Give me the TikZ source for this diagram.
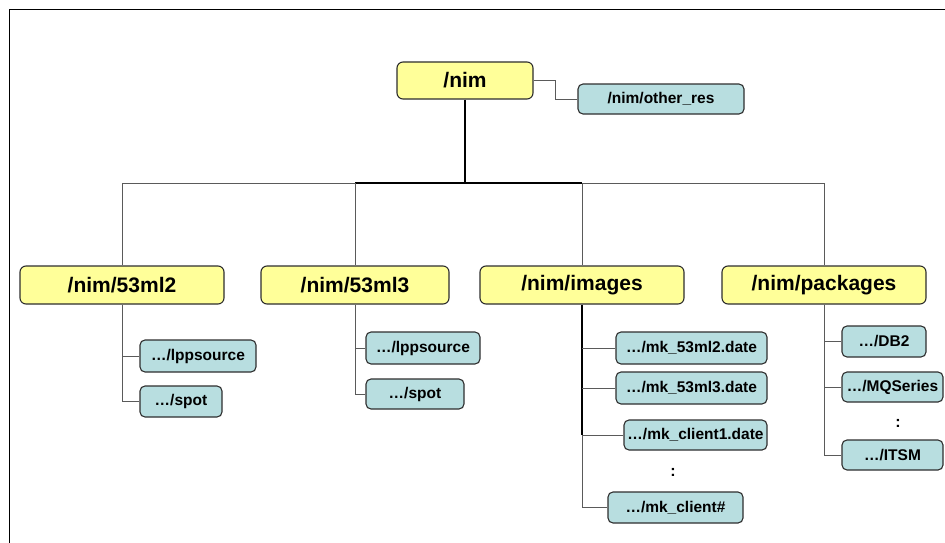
\documentclass[tikz,border=0pt]{standalone}
\usepackage{fontspec}
\setmainfont{Liberation Sans}
\begin{document}
\definecolor{diryellow}{HTML}{FFFF99}
\definecolor{dirteal}{HTML}{B8DEE0}
\definecolor{boxline}{HTML}{2E2E2E}
\definecolor{branchgray}{HTML}{5A5A5A}
\begin{tikzpicture}[x=1pt,y=-1pt,
  topbox/.style={draw=boxline,line width=1.1pt,rounded corners=6pt,fill=diryellow,
    inner sep=0pt,minimum height=37pt,font=\fontsize{21}{21}\selectfont\bfseries},
  subbox/.style={draw=boxline,line width=1.1pt,rounded corners=5pt,fill=dirteal,
    inner sep=0pt,minimum height=31pt,font=\fontsize{15.5}{15.5}\selectfont\bfseries},
  trunk/.style={draw=black,line width=1.3pt},
  branch/.style={draw=branchgray,line width=1pt},
  vdots/.style={inner sep=0pt,font=\fontsize{16}{16}\selectfont\bfseries}]
\useasboundingbox (0,0) rectangle (945,543);
\clip (0,0) rectangle (945,543);

% outer frame
\draw[line width=1.6pt] (9.5,560) -- (9.5,9.5) -- (960,9.5);

% root and its side entry
\node[topbox,minimum width=136pt] (nim) at (465,80.5) {/nim};
\node[subbox,minimum width=166pt,minimum height=30pt] (other) at (661,99) {/nim/other\_res};
\draw[branch] (nim.east) -- ++(22,0) |- (other.west);

% first level
\node[topbox,minimum width=204pt,minimum height=38pt] (ml2) at (122,285) {/nim/53ml2};
\node[topbox,minimum width=188pt,minimum height=38pt] (ml3) at (355,285) {/nim/53ml3};
\node[topbox,minimum width=204pt,minimum height=38pt] (img) at (582,285) {/nim/images};
\node[topbox,minimum width=204pt,minimum height=38pt] (pkg) at (824,285) {/nim/packages};

\coordinate (hub) at (465,183);
\draw[trunk] (nim.south) -- (hub);
\draw[trunk] (ml3.north |- hub) -- (img.north |- hub);
\draw[branch] (ml2.north) |- (ml3.north |- hub) -- (ml3.north);
\draw[branch] (pkg.north) |- (img.north |- hub) -- (img.north);

% /nim/53ml2
\node[subbox,minimum width=116pt,minimum height=32pt] (ml2lpp) at (198,356) {\dots/lppsource};
\node[subbox,minimum width=82pt] (ml2spot) at (181,401.5) {\dots/spot};
\draw[branch] (ml2.south) |- (ml2lpp.west);
\draw[branch] (ml2.south) |- (ml2spot.west);

% /nim/53ml3
\node[subbox,minimum width=114pt,minimum height=32pt] (ml3lpp) at (423,348) {\dots/lppsource};
\node[subbox,minimum width=98pt,minimum height=30pt] (ml3spot) at (415,394) {\dots/spot};
\draw[branch] (ml3.south) |- (ml3lpp.west);
\draw[branch] (ml3.south) |- (ml3spot.west);

% /nim/images
\node[subbox,minimum width=151pt,minimum height=32pt] (mka) at (691.5,348) {\dots/mk\_53ml2.date};
\node[subbox,minimum width=151pt,minimum height=32pt] (mkb) at (691.5,388) {\dots/mk\_53ml3.date};
\node[subbox,minimum width=143pt,minimum height=30pt] (mkc) at (695.5,435) {\dots/mk\_client1.date};
\node[vdots] (imgdots) at (673,472) {:};
\node[subbox,minimum width=135pt] (mkd) at (675.5,507.5) {\dots/mk\_client\#};
\draw[trunk] (img.south) -- (img.south |- mkc.west);
\draw[branch] (img.south |- mka.west) -- (mka.west);
\draw[branch] (img.south |- mkb.west) -- (mkb.west);
\draw[branch] (img.south |- mkc.west) -- (mkc.west);
\draw[branch] (img.south |- mkc.west) |- (mkd.west);

% /nim/packages
\node[subbox,minimum width=84pt] (db2) at (884,341.5) {\dots/DB2};
\node[subbox,minimum width=101pt,minimum height=30pt] (mq) at (892.5,387) {\dots/MQSeries};
\node[vdots] (pkgdots) at (898,423) {:};
\node[subbox,minimum width=101pt,minimum height=30pt] (itsm) at (892.5,455) {\dots/ITSM};
\draw[branch] (pkg.south) |- (db2.west);
\draw[branch] (pkg.south) |- (mq.west);
\draw[branch] (pkg.south) |- (itsm.west);
\end{tikzpicture}
\end{document}
